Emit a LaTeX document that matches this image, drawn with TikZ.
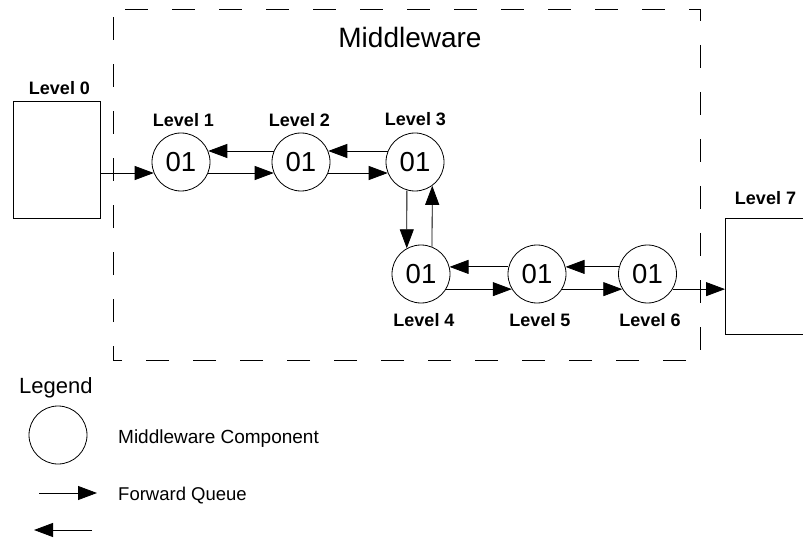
\documentclass[tikz,border=0pt]{standalone}
\usepackage{fontspec}
\setmainfont{Liberation Sans}
\usetikzlibrary{arrows.meta}
\tikzset{
  comp/.style={draw, circle, minimum size=58pt, inner sep=0pt, line width=0.8pt, font=\fontsize{27.5}{27.5}\selectfont},
  lvl/.style={font=\fontsize{18}{18}\selectfont\bfseries, inner sep=0pt},
  fwd/.style={line width=0.8pt, -{Triangle[length=19pt,width=14pt]}},
  boxnode/.style={draw, line width=0.8pt, anchor=north west, inner sep=0pt},
  mwbox/.style={line width=0.8pt, dash pattern=on 23pt off 24pt, dash phase=35pt}
}
\begin{document}
\begin{tikzpicture}[x=1pt,y=-1pt]
\useasboundingbox (0,0) rectangle (803,540);
% middleware dashed box
\draw[mwbox] (113,9) -- (700,9) -- (700,360) -- (113,360) -- cycle;
\node[inner sep=0pt, font=\fontsize{28}{28}\selectfont] (mw) at (410,37) {Middleware};
% end boxes
\node[boxnode, minimum width=87pt, minimum height=117pt] (b0) at (13,101) {};
\node[boxnode, minimum width=90pt, minimum height=116pt] (b7) at (725,218) {};
\node[lvl] (l0) at (59.5,88) {Level 0};
\node[lvl] (l7) at (765.5,198) {Level 7};
% components
\node[comp] (c1) at (181,162) {01};
\node[comp] (c2) at (301,162) {01};
\node[comp] (c3) at (415,162) {01};
\node[comp] (c4) at (421,274) {01};
\node[comp] (c5) at (537,274) {01};
\node[comp] (c6) at (647.5,274) {01};
\node[lvl] (l1) at (183.5,120) {Level 1};
\node[lvl] (l2) at (299.5,120) {Level 2};
\node[lvl] (l3) at (415.5,119) {Level 3};
\node[lvl] (l4) at (424,320) {Level 4};
\node[lvl] (l5) at (540,320) {Level 5};
\node[lvl] (l6) at (650,320) {Level 6};
% connectors
\draw[fwd] (b0.east |- c1.-158) -- (c1.-158);
\draw[fwd] (c1.-22) -- (c2.-158);
\draw[fwd] (c2.158) -- (c1.22);
\draw[fwd] (c2.-22) -- (c3.-158);
\draw[fwd] (c3.158) -- (c2.22);
\draw[fwd] (c3.-106) -- (c4.119);
\draw[fwd] (c4.68) -- (c3.-54);
\draw[fwd] (c4.-31) -- (c5.-149);
\draw[fwd] (c5.166) -- (c4.14);
\draw[fwd] (c5.-31) -- (c6.-149);
\draw[fwd] (c6.166) -- (c5.14);
\draw[fwd] (c6.-31) -- (c6.-31 -| b7.west);
% legend
\node[anchor=base west, inner sep=0pt, font=\fontsize{22}{22}\selectfont] (lg) at (19,393) {Legend};
\node[comp] (lc) at (58,435) {};
\node[anchor=base west, inner sep=0pt, font=\fontsize{19}{19}\selectfont] (lct) at (118,443) {Middleware Component};
\coordinate (fa) at (39,493);
\coordinate (fb) at (97,493);
\draw[fwd] (fa) -- (fb);
\node[anchor=base west, inner sep=0pt, font=\fontsize{18.5}{18.5}\selectfont] (lft) at (118,500) {Forward Queue};
\coordinate (ba) at (92,530);
\coordinate (bb) at (34,530);
\draw[fwd] (ba) -- (bb);
\end{tikzpicture}
\end{document}
